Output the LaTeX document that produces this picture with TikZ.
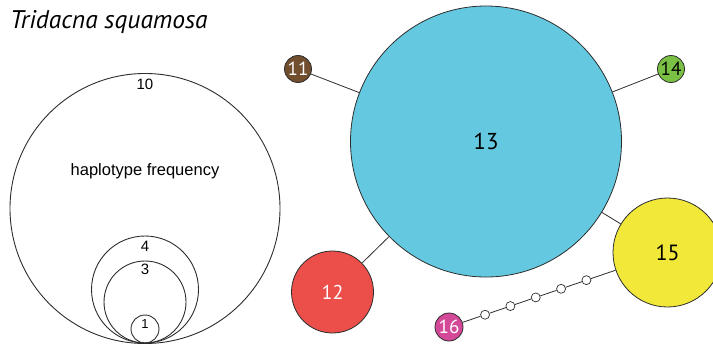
\documentclass[tikz,border=0pt]{standalone}
\usepackage{fontspec}
\setmainfont{Liberation Sans}
\newfontfamily\myriad{PT Sans}
\usetikzlibrary{positioning, calc}

\definecolor{hapblue}{RGB}{100,201,224}
\definecolor{hapbrown}{RGB}{112,78,46}
\definecolor{hapgreen}{RGB}{122,192,68}
\definecolor{hapred}{RGB}{236,78,74}
\definecolor{hapyellow}{RGB}{241,232,58}
\definecolor{happink}{RGB}{212,72,152}
\definecolor{hapline}{RGB}{45,45,45}

\begin{document}
\begin{tikzpicture}[x=1pt, y=-1pt,
    freq/.style={circle, draw=hapline, line width=0.9pt, inner sep=0pt},
    hap/.style={circle, draw=hapline, line width=0.8pt, inner sep=0pt, font=\myriad\fontsize{19}{19}\selectfont},
    mut/.style={circle, draw=hapline, fill=white, line width=0.7pt, inner sep=0pt, minimum size=9pt},
    num/.style={inner sep=0pt, font=\fontsize{15}{15}\selectfont},
    link/.style={draw=hapline, line width=0.8pt}]
        \clip (0,0) rectangle (713,346);

        \node[anchor=base west, inner sep=0pt, font=\myriad\itshape\fontsize{25.5}{25.5}\selectfont] (title) at (10,28.5) {Tridacna squamosa};

        % legend
        \node[freq, minimum size=270pt]   (L10) at (145,208.5) {};
        \node[freq, minimum size=107pt]   (L4)  at (145,289.5) {};
        \node[freq, minimum size=82pt]    (L3)  at (145,302)   {};
        \node[freq, minimum size=28pt]    (L1)  at (145,329)   {};
        \node[num, below=5.5pt of L10.north] (n10) {10};
        \node[num, below=5pt of L4.north]    (n4)  {4};
        \node[num, below=3pt of L3.north]    (n3)  {3};
        \node[num, below=4.5pt of L1.north, font=\fontsize{13}{13}\selectfont] (n1) {1};
        \node[anchor=base, inner sep=0pt, font=\fontsize{16.5}{16.5}\selectfont] (freqtext) at (145,175.5) {haplotype frequency};

        % network
        \node[hap, fill=hapblue, minimum size=271pt, font=\myriad\fontsize{23}{23}\selectfont] (H13) at (486,141.5) {13};
        \node[hap, fill=hapbrown, text=white, minimum size=27pt] (H11) at (298,69)  {11};
        \node[hap, fill=hapgreen, minimum size=27pt]             (H14) at (671,69)  {14};
        \node[hap, fill=hapred, text=white, minimum size=82pt, font=\myriad\fontsize{20}{20}\selectfont] (H12) at (332.5,292) {12};
        \node[hap, fill=hapyellow, minimum size=109pt, font=\myriad\fontsize{22}{22}\selectfont] (H15) at (667.5,252.5) {15};
        \node[hap, fill=happink, text=white, minimum size=28pt]  (H16) at (449,327) {16};

        \draw[link] (H11) -- (H13);
        \draw[link] (H14) -- (H13);
        \draw[link] (H12) -- (H13);
        \draw[link] (H15) -- (H13);

        \foreach \i [evaluate=\i as \t using 0.165+0.116*(\i-1)] in {1,...,5}
            \node[mut] (M\i) at ($(H16.center)!\t!(H15.center)$) {};
        \draw[link] (H16) -- (M1) -- (M2) -- (M3) -- (M4) -- (M5) -- (H15);
\end{tikzpicture}
\end{document}
